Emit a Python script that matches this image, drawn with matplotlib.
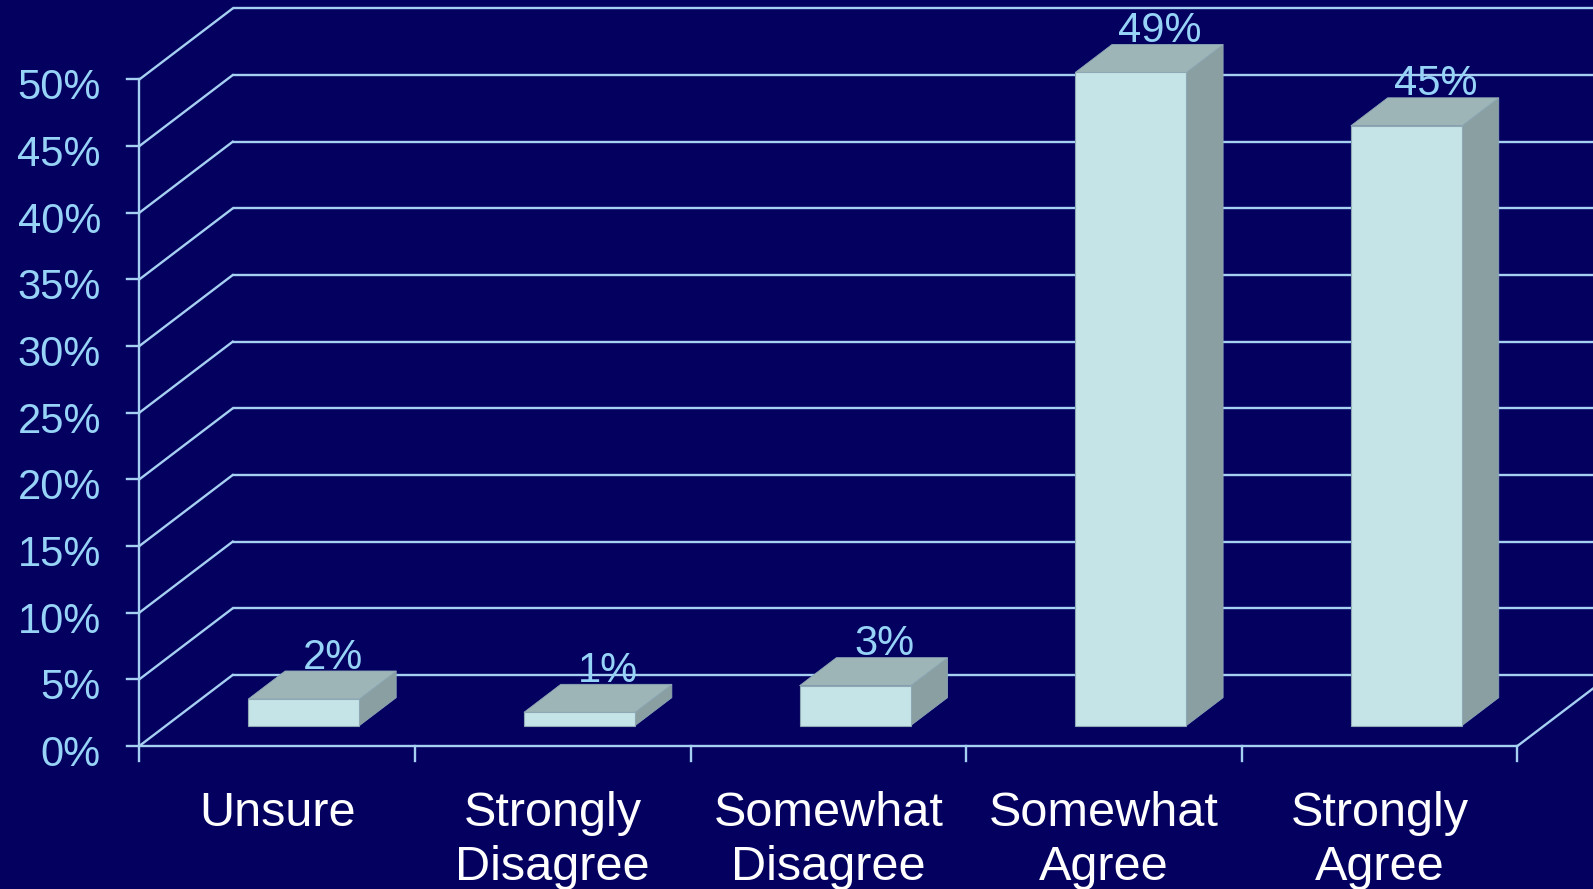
import matplotlib
matplotlib.use("Agg")
import matplotlib.pyplot as plt
from matplotlib.patches import Polygon, Rectangle

# ---- data ----
categories = ["Unsure", "Strongly\nDisagree", "Somewhat\nDisagree", "Somewhat\nAgree", "Strongly\nAgree"]
values = [2, 1, 3, 49, 45]
value_labels = ["2%", "1%", "3%", "49%", "45%"]
y_ticks = [0, 5, 10, 15, 20, 25, 30, 35, 40, 45, 50]
y_tick_labels = ["0%", "5%", "10%", "15%", "20%", "25%", "30%", "35%", "40%", "45%", "50%"]

# ---- style ----
BG = "#030060"
LINE = "#a6d0f2"
TICK_TXT = "#96d3f6"
FRONT = "#c5e4e7"
TOP = "#9db5b7"
SIDE = "#8a9fa1"
EDGE = "#8ea8b6"
FONT = "Liberation Sans"

# pseudo-3D geometry (data units: x = category slots, y = percent)
DX, DY = 0.339, 5.33      # full depth of the plot box
F0, F1 = 0.286, 0.68      # bar front / back depth fraction
BW = 0.403                # bar width (slot units)

fig = plt.figure(figsize=(15.93, 8.89), dpi=100, facecolor=BG)
ax = fig.add_axes([0, 0, 1, 1])
ax.set_facecolor(BG)
ax.set_xlim(-0.5054, 5.274)
ax.set_ylim(-10.73, 55.96)
ax.axis("off")

n = len(categories)
lw = 1.7

# back wall gridlines, left wall diagonals, y ticks
for v, lab in zip(y_ticks, y_tick_labels):
    ax.plot([DX, n + DX], [v + DY, v + DY], color=LINE, lw=lw, zorder=1, solid_capstyle="butt")
    ax.plot([0, DX], [v, v + DY], color=LINE, lw=lw, zorder=1)
    ax.plot([-0.0457, 0], [v, v], color=LINE, lw=lw, zorder=1)
    ax.text(-0.139, v - 1.5, lab, ha="right", va="baseline", color=TICK_TXT, fontsize=30, family=FONT)

# front axis, floor
ax.plot([0, 0], [-1.1, max(y_ticks)], color=LINE, lw=lw, zorder=1)
ax.plot([0, n], [0, 0], color=LINE, lw=lw, zorder=1)
ax.plot([n, n + DX], [0, DY], color=LINE, lw=lw, zorder=1)
for i in range(1, n + 1):
    ax.plot([i, i], [0, -1.1], color=LINE, lw=lw, zorder=1)

# bars
bdx, bdy = (F1 - F0) * DX, (F1 - F0) * DY
for i, v in enumerate(values):
    xl = i + 0.5 - BW / 2 + F0 * DX
    y0 = F0 * DY
    xr = xl + BW
    side = Polygon([(xr, y0), (xr + bdx, y0 + bdy), (xr + bdx, y0 + v + bdy), (xr, y0 + v)],
                   closed=True, facecolor=SIDE, edgecolor=EDGE, lw=0.6, zorder=3)
    top = Polygon([(xl, y0 + v), (xr, y0 + v), (xr + bdx, y0 + v + bdy), (xl + bdx, y0 + v + bdy)],
                  closed=True, facecolor=TOP, edgecolor=EDGE, lw=0.6, zorder=3)
    front = Rectangle((xl, y0), BW, v, facecolor=FRONT, edgecolor=EDGE, lw=0.8, zorder=4)
    for p in (side, top, front):
        ax.add_patch(p)
    ax.text(xl + BW / 2 + 0.105, y0 + v + bdy + 0.18, value_labels[i], ha="center", va="baseline",
            color=TICK_TXT, fontsize=30, family=FONT, zorder=5)

# category labels (one text per line, first baseline fixed)
line_step = 4.05
for i, c in enumerate(categories):
    for k, part in enumerate(c.split("\n")):
        ax.text(i + 0.5, -6.0 - k * line_step, part, ha="center", va="baseline", color="white",
                fontsize=35, family=FONT)

fig.savefig("out.png", dpi=100, facecolor=BG)
